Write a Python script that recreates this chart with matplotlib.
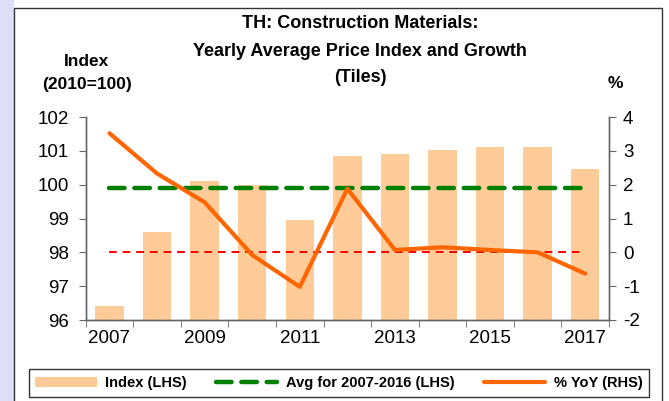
import matplotlib.pyplot as plt
import matplotlib.patches as mpatches
import numpy as np

plt.rcParams['font.family'] = ['Liberation Sans', 'DejaVu Sans']
plt.rcParams['axes.unicode_minus'] = False

years = [2007, 2008, 2009, 2010, 2011, 2012, 2013, 2014, 2015, 2016, 2017]
index_vals = [96.4, 98.6, 100.1, 100.0, 98.95, 100.85, 100.9, 101.03, 101.1, 101.1, 100.45]
yoy_vals = [3.52, 2.33, 1.48, -0.08, -1.02, 1.88, 0.07, 0.15, 0.07, 0.0, -0.63]
avg_2007_2016 = 99.9
zero_line = 0.0

fig = plt.figure(figsize=(6.69, 4.01), dpi=100)
fig.patch.set_facecolor('white')

# lavender slide strip on the left and the chart frame
fig.patches.append(mpatches.Rectangle((0, 0), 14 / 669, 1, transform=fig.transFigure,
                                      facecolor='#dedef6', edgecolor='none', zorder=-10))
fig.patches.append(mpatches.Rectangle((14 / 669, -0.05), 648 / 669, 1 - 8 / 401 + 0.05,
                                      transform=fig.transFigure, facecolor='white',
                                      edgecolor='#333333', linewidth=1.0, zorder=-9))

ax = fig.add_axes([85.7 / 669, 1 - 320 / 401, (609 - 85.7) / 669, (320 - 117) / 401])
ax.set_facecolor('none')
x = np.arange(len(years))

bars = ax.bar(x, index_vals, width=0.6, color='#FFCC99', zorder=1)
avg_line, = ax.plot([x[0], x[-1]], [avg_2007_2016, avg_2007_2016], color='#008000',
                    linewidth=3.2, linestyle=(0, (3.5, 2.2)), dash_capstyle='round', zorder=3)
ax.set_ylim(96, 102)
ax.set_xlim(-0.5, len(years) - 0.5)
ax.set_yticks(np.arange(96, 103, 1))

ax2 = ax.twinx()
ax2.plot([x[0], x[-1]], [zero_line, zero_line], color='#FF0000', linewidth=1.4,
         linestyle=(0, (4, 3)), zorder=2)
yoy_line, = ax2.plot(x, yoy_vals, color='#FF6600', linewidth=3.0,
                     solid_capstyle='round', solid_joinstyle='round', zorder=4)
ax2.set_ylim(-2, 4)
ax2.set_yticks(np.arange(-2, 5, 1))

for a in (ax, ax2):
    a.spines['top'].set_visible(False)
    for s in ('left', 'right', 'bottom'):
        a.spines[s].set_color('#666666')
        a.spines[s].set_linewidth(1.0)

ax.set_xticks(x[::2])
ax.set_xticklabels([str(y) for y in years[::2]])
ax.set_xticks(np.arange(-0.5, len(years), 1), minor=True)
ax.tick_params(axis='x', which='major', length=0, labelsize=13.5, pad=7)
ax.tick_params(axis='x', which='minor', length=5, color='#666666', direction='out')
ax.tick_params(axis='y', length=5, color='#666666', labelsize=13.5, pad=7)
ax2.tick_params(axis='y', length=5, color='#666666', labelsize=13.5, pad=5)

fig.text(360 / 669, 1 - 24 / 401, 'TH: Construction Materials:', ha='center', va='center',
         fontsize=13, fontweight='bold')
fig.text(360 / 669, 1 - 52 / 401, 'Yearly Average Price Index and Growth', ha='center',
         va='center', fontsize=13, fontweight='bold')
fig.text(360 / 669, 1 - 77 / 401, '(Tiles)', ha='center', va='center',
         fontsize=13, fontweight='bold')
fig.text(87 / 669, 1 - 62 / 401, 'Index', ha='center', va='center', fontsize=12.5, fontweight='bold')
fig.text(87 / 669, 1 - 84 / 401, '(2010=100)', ha='center', va='center', fontsize=12.5,
         fontweight='bold')
fig.text(615 / 669, 1 - 84 / 401, '%', ha='center', va='center', fontsize=12.5, fontweight='bold')

leg = fig.legend([bars, avg_line, yoy_line],
                 ['Index (LHS)', 'Avg for 2007-2016 (LHS)', '% YoY (RHS)'],
                 loc='center', bbox_to_anchor=(339 / 669, 1 - 383 / 401), ncol=3,
                 frameon=True, fancybox=False, edgecolor='#333333', framealpha=1,
                 prop={'weight': 'bold', 'size': 10.5}, handlelength=4.2,
                 columnspacing=2.0, borderpad=0.45, handletextpad=0.6)
leg.get_frame().set_linewidth(1.0)

fig.savefig('out.png', dpi=100)
